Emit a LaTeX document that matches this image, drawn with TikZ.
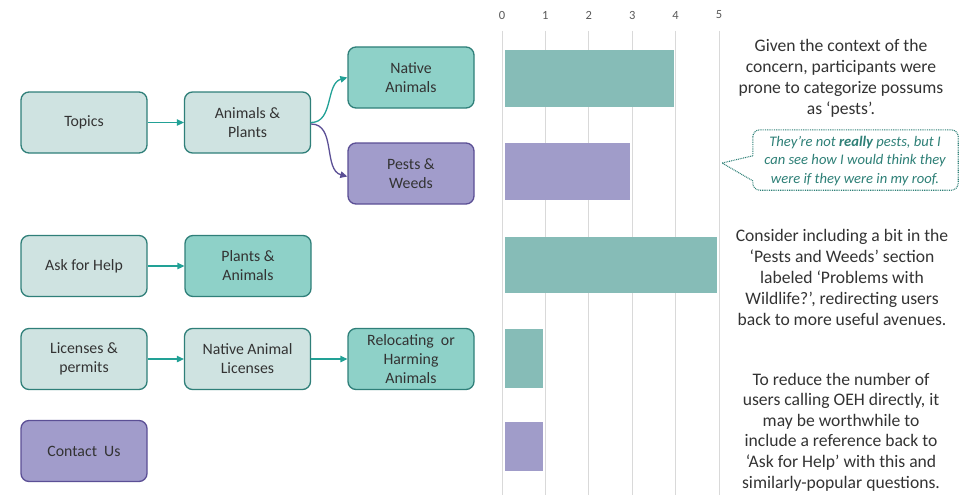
\documentclass[tikz,border=0pt]{standalone}
\usepackage{fontspec}
\setmainfont{Carlito}
\usetikzlibrary{arrows.meta}
\definecolor{lightfill}{HTML}{CFE3E1}
\definecolor{tealborder}{HTML}{2F7F79}
\definecolor{darkfill}{HTML}{8ED1C8}
\definecolor{purplefill}{HTML}{A19CCB}
\definecolor{purpleborder}{HTML}{5B4F95}
\definecolor{boxtext}{HTML}{333333}
\definecolor{tealarrow}{HTML}{22A196}
\definecolor{tealbar}{HTML}{86BCB7}
\definecolor{purplebar}{HTML}{A09CC9}
\definecolor{gridgray}{HTML}{D9D9D9}
\definecolor{ticktext}{HTML}{595959}
\definecolor{bodytext}{HTML}{333333}
\definecolor{quotetext}{HTML}{2E8077}
\begin{document}
\begin{tikzpicture}[x=1pt,y=-1pt,
  basebox/.style={rounded corners=8pt, line width=1.3pt, minimum width=126pt,
    minimum height=61pt, align=center, inner sep=0pt, text=boxtext,
    font=\fontsize{15.8}{19}\selectfont},
  lightbox/.style={basebox, draw=tealborder, fill=lightfill},
  darkbox/.style={basebox, draw=tealborder, fill=darkfill},
  purplebox/.style={basebox, draw=purpleborder, fill=purplefill},
  tealarr/.style={draw=tealarrow, line width=1.3pt, -{Triangle[length=7pt,width=6.5pt]}},
  purplearr/.style={draw=purpleborder, line width=1.3pt, -{Triangle[length=7pt,width=6.5pt]}},
  gridline/.style={draw=gridgray, line width=1pt},
  ticklabel/.style={text=ticktext, font=\fontsize{12.5}{14}\selectfont},
  note/.style={text=bodytext, align=center, font=\fontsize{17.6}{21.2}\selectfont},
  notetight/.style={note, font=\fontsize{17.6}{20.6}\selectfont},
  bubbleline/.style={draw=quotetext, line width=1.1pt, dash pattern=on 0.9pt off 0.9pt},
  quote/.style={text=quotetext, align=center, font=\fontsize{14.6}{18.8}\selectfont\itshape}
]
\useasboundingbox (0,0) rectangle (963,495);

% ---------- flow boxes ----------
\node[lightbox] (topics) at (84,122.5) {Topics};
\node[lightbox] (ap) at (247.5,122.5) {Animals \&\\Plants};
\node[darkbox] (na) at (411,77.5) {Native\\Animals};
\node[purplebox] (pw) at (411,173.5) {Pests \&\\Weeds};

\node[lightbox] (help) at (84,266) {Ask for Help};
\node[darkbox] (pa) at (248,266) {Plants \&\\Animals};

\node[lightbox] (lic) at (84,359) {Licenses \&\\permits};
\node[lightbox] (nal) at (247.5,359) {Native Animal\\Licenses};
\node[darkbox] (rel) at (411,359) {Relocating~ or\\Harming\\Animals};

\node[purplebox] (contact) at (84,451) {Contact~ Us};

% ---------- connectors ----------
\draw[tealarr] (topics.east) -- (ap.west);
\draw[tealarr] (ap.east) to[out=0,in=195] (na.west);
\draw[purplearr] ([yshift=-1.5pt]ap.east) to[out=0,in=165] ([yshift=-3pt]pw.west);
\draw[tealarr] (help.east) -- (pa.west);
\draw[tealarr] (lic.east) -- (nal.west);
\draw[tealarr] (nal.east) -- (rel.west);

% ---------- bar chart ----------
\foreach \i in {0,...,5} {
  \draw[gridline] ({502+43.4*\i},31) -- ({502+43.4*\i},495);
  \node[ticklabel] (tick\i) at ({502+43.4*\i},15) {\i};
}
\fill[tealbar]   (505,50)  rectangle (674,107);
\fill[purplebar] (505,143) rectangle (630,200);
\fill[tealbar]   (505,237) rectangle (717,293);
\fill[tealbar]   (505,329) rectangle (543,388);
\fill[purplebar] (505,422) rectangle (543,471);

% ---------- notes ----------
\node[note] (note1) at (841,78.5) {Given the context of the\\concern, participants were\\prone to categorize possums\\as ‘pests’.};

\node[draw=none, fill=white, rounded corners=7pt, minimum width=205pt, minimum height=60pt,
      inner sep=0pt] (bubble) at (855.5,160) {};
\draw[bubbleline, rounded corners=7pt] (bubble.north west) rectangle (bubble.south east);
\path (bubble.north west) ++(0,26) coordinate (tb1) ++(0,25) coordinate (tb2);
\coordinate (tip) at (722,163);
\fill[white] ([xshift=1pt]tb1) -- (tip) -- ([xshift=1pt]tb2) -- cycle;
\draw[bubbleline] (tb1) -- (tip) -- (tb2);
\node[quote] (quotetxt) at (855,161) {They’re not \textbf{really} pests, but I\\can see how I would think they\\were if they were in my roof.};

\node[note] (note2) at (842,277.5) {Consider including a bit in the\\‘Pests and Weeds’ section\\labeled ‘Problems with\\Wildlife?’, redirecting users\\back to more useful avenues.};

\node[notetight] (note3) at (841,432) {To reduce the number of\\users calling OEH directly, it\\may be worthwhile to\\include a reference back to\\‘Ask for Help’ with this and\\similarly-popular questions.};
\end{tikzpicture}
\end{document}
